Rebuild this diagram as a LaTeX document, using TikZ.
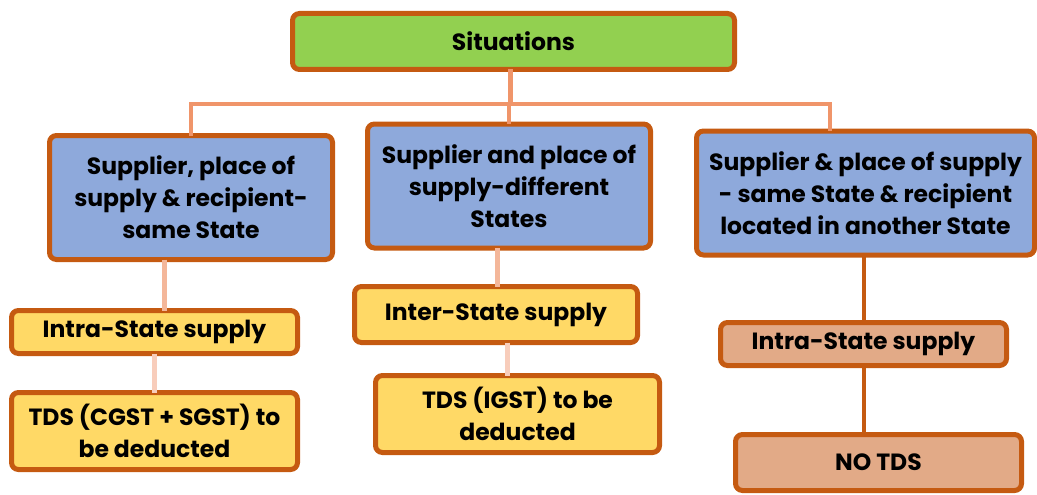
\documentclass[tikz,border=0pt]{standalone}
\usepackage{fontspec}
\setmainfont{Poppins}
\definecolor{rim}{HTML}{C55A11}
\definecolor{grass}{HTML}{92D050}
\definecolor{sky}{HTML}{8EA9DB}
\definecolor{sun}{HTML}{FFD966}
\definecolor{peach}{HTML}{E2AA87}
\definecolor{salmon}{HTML}{F0956A}
\definecolor{blush}{HTML}{F4B79A}
\definecolor{pale}{HTML}{F8CDBB}
\begin{document}
\begin{tikzpicture}[
  x=1pt, y=-1pt,
  every node/.style={draw=rim,line width=5pt,rounded corners=7pt,align=center,
    outer sep=0pt,inner sep=0pt,font=\fontsize{23.5}{32}\selectfont\bfseries},
  head/.style={fill=grass,minimum width=442pt,minimum height=56pt},
  case/.style={fill=sky,minimum height=124pt},
  rule/.style={fill=sun},
  none/.style={fill=peach}
]
  \useasboundingbox (0,0) rectangle (1037,495);

  \node[head] (top) at (513.5,41.5) {Situations};

  \node[case,minimum width=283pt] (same) at (191,197.5)
    {Supplier, place of\\supply \& recipient-\\same State};
  \node[case,minimum width=283pt] (diff) at (509,186)
    {Supplier and place of\\supply-different\\States};
  \node[case,minimum width=338pt] (other) at (865.5,193)
    {Supplier \& place of supply\\- same State \& recipient\\located in another State};

  \node[rule,minimum width=286pt,minimum height=43pt] (intra) at (154.5,332) {Intra-State supply};
  \node[rule,minimum width=286pt,minimum height=77pt] (cgst) at (154.5,431) {TDS (CGST + SGST) to\\be deducted};

  \node[rule,minimum width=283pt,minimum height=56pt] (inter) at (496,314.5) {Inter-State supply};
  \node[rule,minimum width=284pt,minimum height=77pt] (igst) at (517.5,414) {TDS (IGST) to be\\deducted};

  \node[none,minimum width=286pt,minimum height=43pt] (intra2) at (863.5,344) {Intra-State supply};
  \node[none,minimum width=286pt,minimum height=56pt] (notds) at (878.5,462.5) {NO TDS};

  \coordinate (bus) at (0,104);
  \coordinate (d1) at (164,0);
  \coordinate (d2) at (154,0);
  \coordinate (d3) at (497,0);
  \coordinate (d4) at (507,0);
  \coordinate (d5) at (830,0);
  \coordinate (d6) at (864,0);

  \draw[salmon,line width=5pt] (top.south -| 510,0) -- (bus -| 510,0);
  \draw[salmon,line width=4pt] (same.north) |- (bus -| d5) -- (other.north -| d5);
  \draw[salmon,line width=4pt] (bus -| diff.north) -- (diff.north);

  \draw[blush,line width=5pt] (same.south -| d1) -- (intra.north -| d1);
  \draw[pale,line width=5pt] (intra.south -| d2) -- (cgst.north -| d2);
  \draw[blush,line width=5pt] (diff.south -| d3) -- (inter.north -| d3);
  \draw[pale,line width=5pt] (inter.south -| d4) -- (igst.north -| d4);
  \draw[rim,line width=3.5pt] (other.south -| d6) -- (intra2.north -| d6);
  \draw[rim,line width=3.5pt] (intra2.south -| d6) -- (notds.north -| d6);
\end{tikzpicture}
\end{document}
